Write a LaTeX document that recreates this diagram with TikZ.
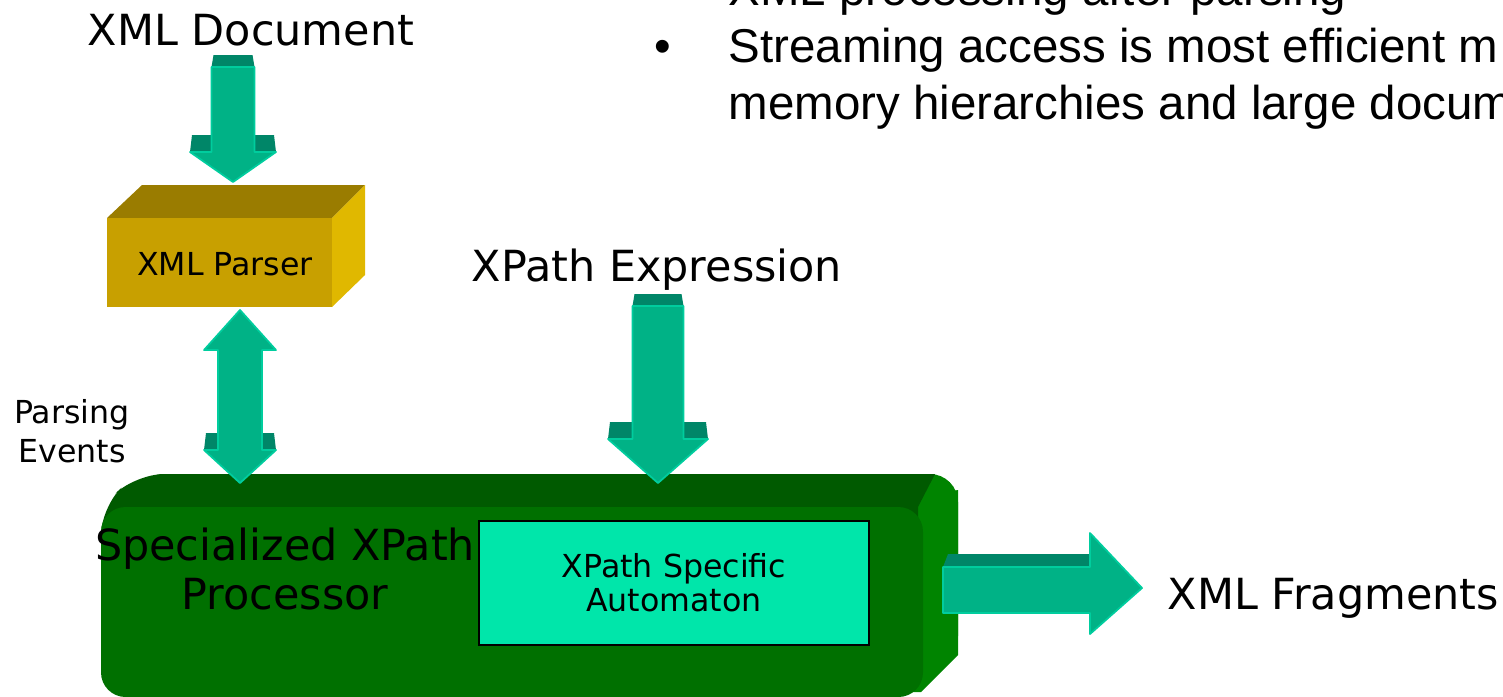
\documentclass[tikz,border=0pt]{standalone}
\usepackage{fontspec}
\setmainfont{DejaVu Sans}
\newfontfamily\slidefont{Liberation Sans}
\usetikzlibrary{positioning}

\definecolor{arrowfill}{RGB}{0,178,134}
\definecolor{arrowdark}{RGB}{0,134,104}
\definecolor{arrowedge}{RGB}{0,205,158}
\definecolor{parserfront}{RGB}{200,160,0}
\definecolor{parsertop}{RGB}{154,124,0}
\definecolor{parserside}{RGB}{224,184,0}
\definecolor{procfront}{RGB}{0,112,0}
\definecolor{proctop}{RGB}{0,90,0}
\definecolor{procside}{RGB}{0,132,0}
\definecolor{autofill}{RGB}{0,230,170}

\tikzset{
  biglabel/.style={font=\fontsize{12.2pt}{14.2pt}\selectfont, inner sep=0pt, align=center},
  smalllabel/.style={font=\fontsize{9pt}{11pt}\selectfont, inner sep=0pt, align=center},
  slideline/.style={font=\slidefont\fontsize{13.5pt}{16pt}\selectfont, inner sep=0pt, anchor=base west},
  arrowface/.style={fill=arrowfill, draw=arrowedge, line width=0.5pt, line join=round},
  autobox/.style={draw=black, line width=0.6pt, fill=autofill, minimum width=3.9cm, minimum height=1.24cm,
    font=\fontsize{9pt}{9.7pt}\selectfont, align=center}
}

% block arrow pointing down: centre x, shaft top, head base, tip, shaft half width, head half width
\newcommand{\downblock}[6]{
  \fill[arrowdark] (#1-#5+2,#2-12) -- (#1+#5-2,#2-12) -- (#1+#5,#2) -- (#1-#5,#2) -- cycle;
  \fill[arrowdark] (#1-#6+2,#3-17) -- (#1-#5,#3-17) -- (#1-#5,#3) -- (#1-#6,#3) -- cycle;
  \fill[arrowdark] (#1+#5,#3-17) -- (#1+#6-2,#3-17) -- (#1+#6,#3) -- (#1+#5,#3) -- cycle;
  \draw[arrowface] (#1-#5,#2) -- (#1+#5,#2) -- (#1+#5,#3) -- (#1+#6,#3) -- (#1,#4)
    -- (#1-#6,#3) -- (#1-#5,#3) -- cycle;
}

\begin{document}
\begin{tikzpicture}[x=0.01cm, y=-0.01cm]
  \useasboundingbox (0,0) rectangle (1503,696);
  \clip (0,0) rectangle (1503,696);

  % slide text
  \node[slideline] (line0) at (728,5) {XML processing after parsing};
  \node[slideline] (bul) at (654,62) {•};
  \node[slideline] (line1) at (728,62) {Streaming access is most efficient m};
  \node[slideline] (line2) at (728,119) {memory hierarchies and large documents};

  % XML parser block
  \fill[parsertop] (107,218) -- (142,185) -- (365,185) -- (332,218) -- cycle;
  \fill[parserside] (332,218) -- (365,185) -- (365,275) -- (332,307) -- cycle;
  \fill[parserfront] (107,218) rectangle (332,307);
  \node[smalllabel, anchor=base] (parser) at (225,275) {XML Parser};

  % XPath processor block
  \fill[procside, rounded corners=8pt] (136,474) rectangle (958,664);
  \fill[procside] (900,500) -- (958,490) -- (958,655) -- (921,692) -- (900,692) -- cycle;
  \fill[proctop] (101,560) [rounded corners=8pt] -- (101,507) -- (136,474) [sharp corners]
    -- (935,474) -- (918,507) -- (918,560) -- cycle;
  \fill[procfront, rounded corners=7pt] (101,507) rectangle (923,697);
  \node[biglabel] (proc) at (285,569) {Specialized XPath\\Processor};
  \node[autobox] (auto) at (674,583) {XPath Specific\\Automaton};

  % labels
  \node[biglabel, anchor=base] (doc) at (251,45) {XML Document};
  \node[biglabel, anchor=base] (expr) at (657,281) {XPath Expression};
  \node[biglabel, anchor=base west] (frags) at (1167,609) {XML Fragments};
  \node[smalllabel] (events) at (72,431) {Parsing\\Events};

  % arrows
  \downblock{233}{67}{152}{182}{21.5}{43}
  \downblock{658}{306}{439}{483}{25.5}{50}

  \fill[arrowdark] (206,433) -- (218,433) -- (218,450) -- (204,450) -- cycle;
  \fill[arrowdark] (262,433) -- (274,433) -- (276,450) -- (262,450) -- cycle;
  \draw[arrowface] (240,310) -- (276,350) -- (262,350) -- (262,450) -- (276,450) -- (240,483)
    -- (204,450) -- (218,450) -- (218,350) -- (204,350) -- cycle;

  \fill[arrowdark] (948,554) -- (1090,554) -- (1090,567) -- (943,567) -- cycle;
  \draw[arrowface] (943,567) -- (1090,567) -- (1090,533) -- (1142,588) -- (1090,634)
    -- (1090,613) -- (943,613) -- cycle;
\end{tikzpicture}
\end{document}
